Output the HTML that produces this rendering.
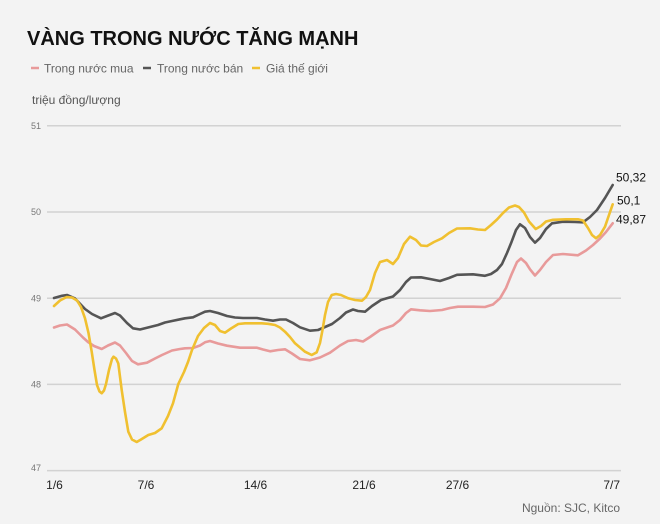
<!DOCTYPE html>
<html>
<head>
<meta charset="utf-8">
<style>
  html, body { margin: 0; padding: 0; background: #f3f3f3; }
  body { width: 660px; height: 524px; overflow: hidden; }
  svg { display: block; font-family: "Liberation Sans", Arial, sans-serif; }
</style>
</head>
<body>
<svg width="660" height="524" viewBox="0 0 660 524" xmlns="http://www.w3.org/2000/svg">
  <rect x="0" y="0" width="660" height="524" fill="#f3f3f3"/>

  <!-- Title -->
  <text x="27" y="45" font-size="20" font-weight="bold" fill="#111">VÀNG TRONG NƯỚC TĂNG MẠNH</text>

  <!-- Legend -->
  <line x1="31" y1="68" x2="39" y2="68" stroke="#e89a9a" stroke-width="2.5"/>
  <text x="44" y="72.5" font-size="12" fill="#666">Trong nước mua</text>
  <line x1="143" y1="68" x2="151" y2="68" stroke="#555" stroke-width="2.5"/>
  <text x="157" y="72.5" font-size="12" fill="#666">Trong nước bán</text>
  <line x1="252" y1="68" x2="260" y2="68" stroke="#f0c030" stroke-width="2.5"/>
  <text x="266" y="72.5" font-size="12" fill="#666">Giá thế giới</text>

  <!-- Unit label -->
  <text x="32" y="104" font-size="12" fill="#555">triệu đồng/lượng</text>

  <!-- Grid lines -->
  <g stroke="#d2d2d2" stroke-width="1.5">
    <line x1="47" y1="125.8" x2="621" y2="125.8"/>
    <line x1="47" y1="212" x2="621" y2="212"/>
    <line x1="47" y1="298.2" x2="621" y2="298.2"/>
    <line x1="47" y1="384.4" x2="621" y2="384.4"/>
    <line x1="47" y1="470.6" x2="621" y2="470.6"/>
  </g>

  <!-- Y tick labels -->
  <g font-size="9" fill="#777">
    <text x="31" y="129">51</text>
    <text x="31" y="215">50</text>
    <text x="31" y="301.5">49</text>
    <text x="31" y="387.5">48</text>
    <text x="31" y="471">47</text>
  </g>

  <!-- X tick labels -->
  <g font-size="12" fill="#222">
    <text x="54.5" y="489" text-anchor="middle">1/6</text>
    <text x="146" y="489" text-anchor="middle">7/6</text>
    <text x="255.5" y="489" text-anchor="middle">14/6</text>
    <text x="364" y="489" text-anchor="middle">21/6</text>
    <text x="457.5" y="489" text-anchor="middle">27/6</text>
    <text x="620" y="489" text-anchor="end">7/7</text>
  </g>

  <!-- Source -->
  <text x="620" y="512" font-size="12" fill="#666" text-anchor="end">Nguồn: SJC, Kitco</text>

  <!-- Pink: Trong nước mua -->
  <polyline fill="none" stroke="#e89a9a" stroke-width="2.6" stroke-linejoin="round" stroke-linecap="round"
    points="54,327.5 60,325.5 67,324.5 75,329.5 83,337.5 88,342 94,346 101.7,349 108,345.5 115,342.5 120,345.5 126,353 132,361 138,364.3 147,362.7 155,358.5 162,355 172,350.5 180,349 185,348.3 193,348 200,345.5 205,342.3 210,341 218,343.5 227,345.7 240,347.7 257,347.7 263,349.5 270,351.3 278,350 285,349.3 292,353.5 300,359 310,360.3 320,357.5 330,352.7 340,345.5 348,341 356,340 363,341.5 370,337 380,330 393,325.5 400,320 406,313 411,309.3 420,310.3 430,311 442,310 450,308 458,306.7 473,306.7 485,307 493,304.5 500,298.3 506,288 512,273.3 517,262 521,258.5 526,263 530,269.3 535,275.5 540,270 546,262 553,255 563,254 578,255.3 586,250.5 593,245 600,238.5 606,232 612.7,223.3"/>

  <!-- Gray: Trong nước bán -->
  <polyline fill="none" stroke="#555555" stroke-width="2.6" stroke-linejoin="round" stroke-linecap="round"
    points="54,298 62,295.8 67,295 75,298.5 85,309 92,314 101,318.3 107,316 115,313 120,315.5 127,323 133,328.3 140,329.5 151,326.7 158,325 165,322.5 172,321 180,319.3 185,318.3 193,317.3 200,314 205,311.7 210,311 218,313 227,316 235,317.5 243,318 257,318 265,319.5 273,320.7 280,319.5 286,319.5 293,323 300,327.3 310,330.7 318,330 325,327 332,324 340,318 346,312.5 353,309.5 358,311 365,311.7 372,306 381,300 386,298.5 393,296.5 400,290 406,282 411,277.5 421,277.3 430,279 440,281 449,278 457,274.8 473,274.3 485,275.8 491,274 497,270 502,264 507,253 511,243.3 516,230 520,224.3 525,228 530,237 535,242.7 540,238 546,229 552,223.3 563,221.7 575,222 583,222.3 590,217 597,210 605,198 612.7,185"/>

  <!-- Yellow: Giá thế giới -->
  <polyline fill="none" stroke="#f0c030" stroke-width="2.6" stroke-linejoin="round" stroke-linecap="round"
    points="54,306 60,300.5 66.7,297 72,297.5 77,300.5 81,307 85,318.3 88.5,333 91.7,351.7 94.5,370 97,385 99.5,391.5 101.7,393.3 104,390.5 106,384 109,370 112,359 113.5,356.7 116,358.5 118.3,363.5 121.7,390 125,412 128.3,431.7 132,439.5 136.7,442 141,439.5 148.3,435 155,433 161.7,428.3 168,416 173,403.3 178.3,384 184,372 188,362 192,350 198,336 204,328 210,323 215,325 220,331 225,332.7 231,328.5 238.3,324 245,323.3 253,323.3 261.7,323.3 268,323.8 275,325 280,327.5 285,331.7 290,337 295,343.3 300,347.5 305,351.7 311.7,355 316.7,352.3 320,343 322.5,330 325,315 328,302 331.7,295 336,294 341,295 348.3,298.3 355,300 362,300.7 366,297 370,290 375,273 380,262 387,260 393,264 398,258 404,244 410,236.7 416,240 421,245.5 427,246 434,242 442,238.3 449,233 457,228.5 470,228.3 478,229.5 485,230 491,225 497,219.5 503,213 509,207.5 515,205.5 519,207 524,212.5 529,221.5 535.7,229 541,226 546,221.5 553,219.8 566,219.3 578,219.3 583,220.5 588,228 592,235 596,238.3 600,235 605,226.7 609,215 612.7,204.3"/>

  <!-- End value labels -->
  <g font-size="12" fill="#111">
    <text x="616" y="181.5">50,32</text>
    <text x="617" y="204.5">50,1</text>
    <text x="616" y="223.5">49,87</text>
  </g>
</svg>
</body>
</html>
